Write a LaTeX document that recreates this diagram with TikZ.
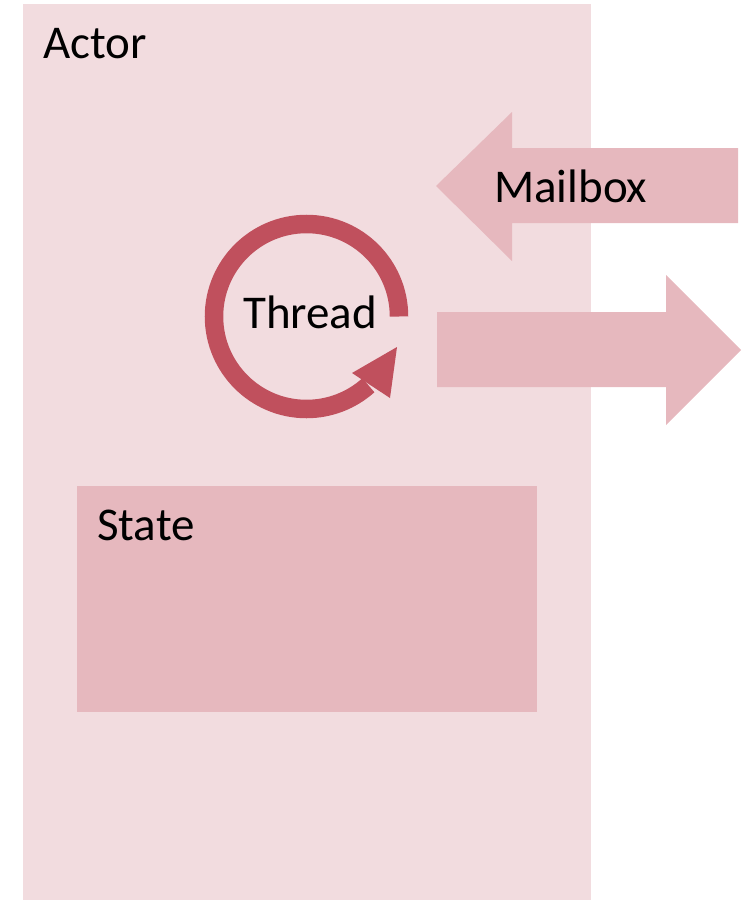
\documentclass[tikz,border=0pt]{standalone}
\usepackage{fontspec}
\setmainfont{Carlito}
\definecolor{actorbg}{HTML}{F2DCDF}
\definecolor{lightred}{HTML}{E6B8BE}
\definecolor{ringred}{HTML}{C0505D}
\begin{document}
\begin{tikzpicture}[x=1pt,y=-1pt,
  label/.style={anchor=base west,inner sep=0pt,font=\fontsize{47}{56}\selectfont}]
\useasboundingbox (0,0) rectangle (753,902);
% actor body
\fill[actorbg] (23,4) rectangle (591,900);
\node[label] (actor) at (43,58) {Actor};
% incoming mailbox arrow
\fill[lightred] (436,186) -- (512,112) -- (512,148) -- (738,148) -- (738,223)
  -- (512,223) -- (512,261) -- cycle;
\node[label] (mailbox) at (494,202) {Mailbox};
% outgoing arrow
\fill[lightred] (437,312) -- (666,312) -- (666,275) -- (741,350) -- (666,425)
  -- (666,387) -- (437,387) -- cycle;
% thread loop
\coordinate (c) at (306.5,316.5);
\draw[ringred,line width=18.5pt] ([shift={(0:92.5)}]c) arc[start angle=0,end angle=-312,radius=92.5];
\fill[ringred] (397,347) -- (352,373) -- (390,398) -- cycle;
\node[label] (thread) at (243,328) {Thread};
% state block
\fill[lightred] (77,486) rectangle (537,712);
\node[label] (state) at (97,540) {State};
\end{tikzpicture}
\end{document}
